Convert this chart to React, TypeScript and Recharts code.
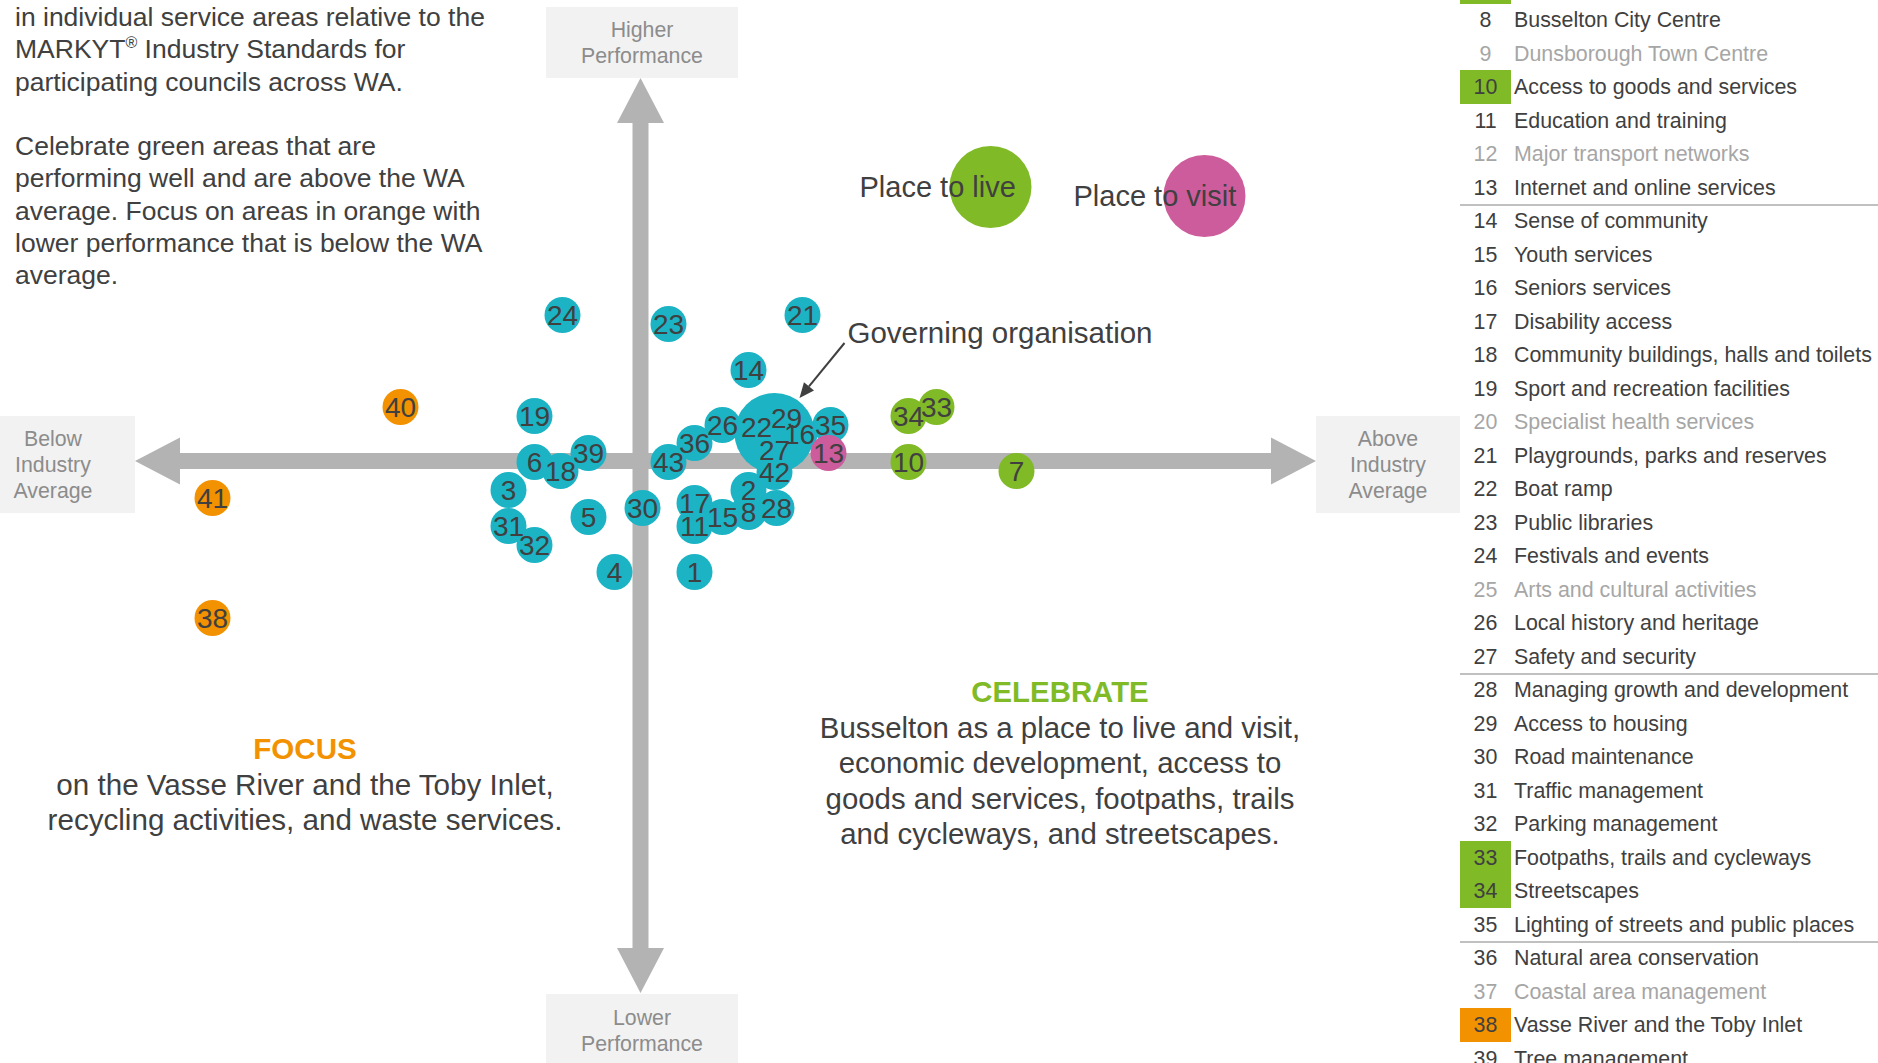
import React from 'react';
import { ScatterChart, Scatter, XAxis, YAxis, ReferenceLine } from 'recharts';

const TEAL = '#1cb3c4';
const GREEN = '#80ba27';
const PINK = '#cd5c9c';
const ORANGE = '#f39200';
const GREY = '#b3b3b3';
const PANEL = '#f2f2f2';
const INK = '#404040';
const MUTED = '#a6a6a6';
const LABEL_GREY = '#8c8c8c';
const FONT = '"Liberation Sans", Arial, Helvetica, sans-serif';

const WIDTH = 1878;
const HEIGHT = 1063;

// score relative to the WA industry average (0 = average on both axes)
const X_DOMAIN = [-32.025, 61.875];
const Y_DOMAIN = [-30.1, 23.05];

// service areas near / around the average
const serviceAreas = [
  { id: 1, x: 2.7, y: -5.55 },
  { id: 2, x: 5.4, y: -1.45 },
  { id: 3, x: -6.6, y: -1.45 },
  { id: 4, x: -1.3, y: -5.55 },
  { id: 5, x: -2.6, y: -2.8 },
  { id: 6, x: -5.3, y: -0.05 },
  { id: 8, x: 5.4, y: -2.55 },
  { id: 11, x: 2.7, y: -3.25 },
  { id: 14, x: 5.4, y: 4.55 },
  { id: 15, x: 4.1, y: -2.8 },
  { id: 16, x: 7.95, y: 1.35 },
  { id: 17, x: 2.7, y: -2.1 },
  { id: 18, x: -4.0, y: -0.5 },
  { id: 19, x: -5.3, y: 2.25 },
  { id: 21, x: 8.1, y: 7.3 },
  { id: 22, x: 5.8, y: 1.7 },
  { id: 23, x: 1.4, y: 6.85 },
  { id: 24, x: -3.9, y: 7.3 },
  { id: 26, x: 4.1, y: 1.8 },
  { id: 27, x: 6.7, y: 0.55 },
  { id: 28, x: 6.8, y: -2.35 },
  { id: 29, x: 7.3, y: 2.15 },
  { id: 30, x: 0.1, y: -2.35 },
  { id: 31, x: -6.6, y: -3.25 },
  { id: 32, x: -5.3, y: -4.2 },
  { id: 35, x: 9.5, y: 1.8 },
  { id: 36, x: 2.7, y: 0.9 },
  { id: 39, x: -2.6, y: 0.4 },
  { id: 42, x: 6.7, y: -0.55 },
  { id: 43, x: 1.4, y: -0.05 },
];

const placeToVisitAreas = [{ id: 13, x: 9.4, y: 0.4 }];

const celebrateAreas = [
  { id: 7, x: 18.8, y: -0.5 },
  { id: 10, x: 13.4, y: -0.05 },
  { id: 33, x: 14.8, y: 2.7 },
  { id: 34, x: 13.4, y: 2.25 },
];

const focusAreas = [
  { id: 38, x: -21.4, y: -7.85 },
  { id: 40, x: -12.0, y: 2.7 },
  { id: 41, x: -21.4, y: -1.85 },
];

const governing = [{ name: 'Governing organisation', x: 6.7, y: 1.4 }];
const placeToLive = [{ name: 'Place to live', x: 17.5, y: 13.7 }];
const placeToVisit = [{ name: 'Place to visit', x: 28.2, y: 13.25 }];

// arrow ends of the two axes (in score units)
const hArrow = [{ x: -25.275, y: 0 }, { x: 33.775, y: 0 }];
const vArrow = [{ x: 0, y: 19.15 }, { x: 0, y: -26.6 }];

const serviceNames: [number, string][] = [
  [7, 'Economic development'],
  [8, 'Busselton City Centre'],
  [9, 'Dunsborough Town Centre'],
  [10, 'Access to goods and services'],
  [11, 'Education and training'],
  [12, 'Major transport networks'],
  [13, 'Internet and online services'],
  [14, 'Sense of community'],
  [15, 'Youth services'],
  [16, 'Seniors services'],
  [17, 'Disability access'],
  [18, 'Community buildings, halls and toilets'],
  [19, 'Sport and recreation facilities'],
  [20, 'Specialist health services'],
  [21, 'Playgrounds, parks and reserves'],
  [22, 'Boat ramp'],
  [23, 'Public libraries'],
  [24, 'Festivals and events'],
  [25, 'Arts and cultural activities'],
  [26, 'Local history and heritage'],
  [27, 'Safety and security'],
  [28, 'Managing growth and development'],
  [29, 'Access to housing'],
  [30, 'Road maintenance'],
  [31, 'Traffic management'],
  [32, 'Parking management'],
  [33, 'Footpaths, trails and cycleways'],
  [34, 'Streetscapes'],
  [35, 'Lighting of streets and public places'],
  [36, 'Natural area conservation'],
  [37, 'Coastal area management'],
  [38, 'Vasse River and the Toby Inlet'],
  [39, 'Tree management'],
];
const mutedIds = [9, 12, 20, 25, 37];
const celebrateIds = [7, 10, 33, 34];
const focusIds = [38];
const groupEnds = [13, 27, 35];

const ROW_H = 33.5;
const ROW_TOP8 = 3;

const dot = (fill: string, r: number) => (props: any) => (
  <circle cx={props.cx} cy={props.cy} r={r} fill={fill} />
);

const numberLabel = (props: any) => (
  <text
    x={props.cx}
    y={props.cy}
    textAnchor="middle"
    dominantBaseline="central"
    fontSize={28}
    fontFamily={FONT}
    fill={INK}
  >
    {props.payload.id}
  </text>
);

const bigBubble = (fill: string) => (props: any) => (
  <g>
    <circle cx={props.cx} cy={props.cy} r={41} fill={fill} />
    <text
      x={props.cx - 131}
      y={props.cy}
      dominantBaseline="central"
      fontSize={29}
      fontFamily={FONT}
      fill={INK}
    >
      {props.payload.name}
    </text>
  </g>
);

const governingShape = (props: any) => {
  const { cx, cy } = props;
  const sx = cx + 70, sy = cy - 90;
  const tx = cx + 25, ty = cy - 35;
  const len = Math.hypot(tx - sx, ty - sy);
  const ux = (tx - sx) / len, uy = (ty - sy) / len;
  const bx = tx - ux * 15, by = ty - uy * 15;
  const nx = -uy, ny = ux;
  return (
    <g>
      <circle cx={cx} cy={cy} r={40} fill={TEAL} />
      <line x1={sx} y1={sy} x2={bx} y2={by} stroke={INK} strokeWidth={2} />
      <polygon
        points={`${tx},${ty} ${bx + nx * 6.5},${by + ny * 6.5} ${bx - nx * 6.5},${by - ny * 6.5}`}
        fill={INK}
      />
      <text
        x={cx + 73}
        y={cy - 101}
        dominantBaseline="central"
        fontSize={29.5}
        fontFamily={FONT}
        fill={INK}
      >
        {props.payload.name}
      </text>
    </g>
  );
};

// double headed block arrow between the two ends of a reference segment
const AxisArrow = (props: any) => {
  const { x1, y1, x2, y2 } = props;
  const len = Math.hypot(x2 - x1, y2 - y1);
  const ux = (x2 - x1) / len, uy = (y2 - y1) / len;
  const nx = -uy, ny = ux;
  const head = 45, half = 23.5, bar = 8;
  const p = (x: number, y: number) => `${x},${y}`;
  const ax = x1 + ux * head, ay = y1 + uy * head;
  const bx = x2 - ux * head, by = y2 - uy * head;
  const pts = [
    p(x1, y1),
    p(ax + nx * half, ay + ny * half),
    p(ax + nx * bar, ay + ny * bar),
    p(bx + nx * bar, by + ny * bar),
    p(bx + nx * half, by + ny * half),
    p(x2, y2),
    p(bx - nx * half, by - ny * half),
    p(bx - nx * bar, by - ny * bar),
    p(ax - nx * bar, ay - ny * bar),
    p(ax - nx * half, ay - ny * half),
  ].join(' ');
  return <polygon points={pts} fill={GREY} />;
};

const panel = (left: number, top: number, width: number, height: number, padTop: number, lines: string[]) => (
  <div
    style={{
      position: 'absolute',
      left,
      top,
      width,
      height,
      background: PANEL,
      boxSizing: 'border-box',
      paddingTop: padTop,
      textAlign: 'center',
      color: LABEL_GREY,
      fontSize: 21.3,
      lineHeight: '26px',
    }}
  >
    {lines.map((l) => (
      <div key={l}>{l}</div>
    ))}
  </div>
);

export default function App() {
  const allMarkers = [...serviceAreas, ...placeToVisitAreas, ...celebrateAreas, ...focusAreas];

  return (
    <div
      style={{
        position: 'absolute',
        left: 0,
        top: 0,
        width: WIDTH,
        height: HEIGHT,
        overflow: 'hidden',
        background: '#fff',
        fontFamily: FONT,
        color: INK,
      }}
    >
      <div style={{ position: 'absolute', left: 15, top: 1, fontSize: 26.5, lineHeight: '32.3px', whiteSpace: 'nowrap' }}>
        in individual service areas relative to the
        <br />
        MARKYT<span style={{ fontSize: 16, lineHeight: '0', position: 'relative', top: -10 }}>®</span> Industry Standards for
        <br />
        participating councils across WA.
        <br />
        <br />
        Celebrate green areas that are
        <br />
        performing well and are above the WA
        <br />
        average. Focus on areas in orange with
        <br />
        lower performance that is below the WA
        <br />
        average.
      </div>

      {panel(546, 7, 192, 71, 10, ['Higher', 'Performance'])}
      {panel(546, 994, 192, 80, 11, ['Lower', 'Performance'])}
      {panel(-29, 416, 164, 97, 10, ['Below', 'Industry', 'Average'])}
      {panel(1316, 416, 144, 97, 10, ['Above', 'Industry', 'Average'])}

      <div style={{ position: 'absolute', left: 5, top: 731, width: 600, textAlign: 'center', fontSize: 29.6, lineHeight: '35.5px', whiteSpace: 'nowrap' }}>
        <div style={{ color: ORANGE, fontWeight: 'bold' }}>FOCUS</div>
        <div>on the Vasse River and the Toby Inlet,</div>
        <div>recycling activities, and waste services.</div>
      </div>

      <div style={{ position: 'absolute', left: 760, top: 674, width: 600, textAlign: 'center', fontSize: 29.4, lineHeight: '35.5px', whiteSpace: 'nowrap' }}>
        <div style={{ color: GREEN, fontWeight: 'bold' }}>CELEBRATE</div>
        <div>Busselton as a place to live and visit,</div>
        <div>economic development, access to</div>
        <div>goods and services, footpaths, trails</div>
        <div>and cycleways, and streetscapes.</div>
      </div>

      {serviceNames.map(([id, name]) => {
        const top = ROW_TOP8 + (id - 8) * ROW_H;
        const bg = celebrateIds.includes(id) ? GREEN : focusIds.includes(id) ? ORANGE : 'transparent';
        return (
          <div
            key={id}
            style={{
              position: 'absolute',
              left: 1460,
              top,
              height: 34,
              display: 'flex',
              alignItems: 'center',
              fontSize: 21.4,
              whiteSpace: 'nowrap',
              color: mutedIds.includes(id) ? MUTED : INK,
            }}
          >
            <div style={{ width: 51, height: 34, lineHeight: '34px', textAlign: 'center', background: bg }}>{id}</div>
            <div style={{ marginLeft: 3, lineHeight: '34px' }}>{name}</div>
          </div>
        );
      })}
      {groupEnds.map((id) => (
        <div
          key={id}
          style={{ position: 'absolute', left: 1460, top: ROW_TOP8 + (id - 7) * ROW_H, width: 420, height: 2, background: '#c0c0c0' }}
        />
      ))}

      <div style={{ position: 'absolute', left: 0, top: 0 }}>
        <ScatterChart width={WIDTH} height={HEIGHT} margin={{ top: 0, right: 0, bottom: 0, left: 0 }}>
          <XAxis type="number" dataKey="x" domain={X_DOMAIN} allowDataOverflow hide height={0} />
          <YAxis type="number" dataKey="y" domain={Y_DOMAIN} allowDataOverflow hide width={0} />
          <ReferenceLine segment={hArrow} ifOverflow="visible" shape={AxisArrow} />
          <ReferenceLine segment={vArrow} ifOverflow="visible" shape={AxisArrow} />
          <Scatter data={serviceAreas} shape={dot(TEAL, 18)} isAnimationActive={false} />
          <Scatter data={governing} shape={governingShape} isAnimationActive={false} />
          <Scatter data={placeToVisitAreas} shape={dot(PINK, 18)} isAnimationActive={false} />
          <Scatter data={celebrateAreas} shape={dot(GREEN, 18)} isAnimationActive={false} />
          <Scatter data={focusAreas} shape={dot(ORANGE, 18)} isAnimationActive={false} />
          <Scatter data={placeToLive} shape={bigBubble(GREEN)} isAnimationActive={false} />
          <Scatter data={placeToVisit} shape={bigBubble(PINK)} isAnimationActive={false} />
          <Scatter data={allMarkers} shape={numberLabel} isAnimationActive={false} />
        </ScatterChart>
      </div>
    </div>
  );
}
